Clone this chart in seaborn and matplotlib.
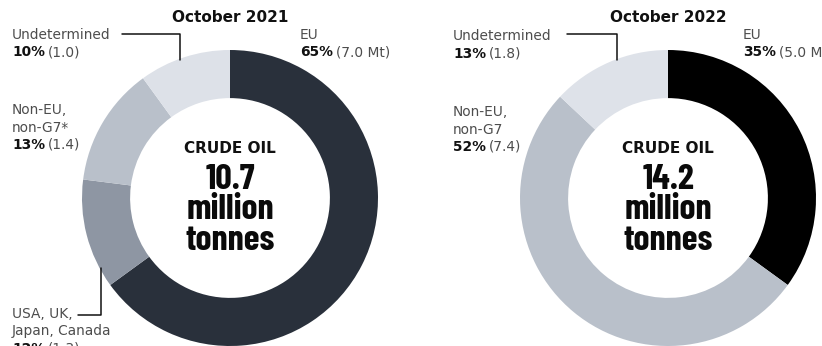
import matplotlib
matplotlib.use("Agg")
import matplotlib.pyplot as plt
from matplotlib.lines import Line2D
import seaborn as sns

# ---- data -------------------------------------------------------------
categories = ["EU", "USA, UK, Japan, Canada", "Non-EU, non-G7", "Undetermined"]
share_2021 = [65, 12, 13, 10]          # % of crude oil exports
volume_2021 = [7.0, 1.3, 1.4, 1.0]     # million tonnes
share_2022 = [35, 0, 52, 13]
volume_2022 = [5.0, 0.0, 7.4, 1.8]
periods = ["October 2021", "October 2022"]
totals = [10.7, 14.2]                  # million tonnes

colors_2021 = ["#29303b", "#8e96a3", "#b9c0ca", "#dde1e8"]
colors_2022 = ["#000000", "#8e96a3", "#b9c0ca", "#dee2e9"]

# ---- figure -----------------------------------------------------------
sns.set_theme(style="white")
plt.rcParams["font.family"] = ["DejaVu Sans"]

W, H = 822, 346
fig = plt.figure(figsize=(W / 100, H / 100), dpi=100)
fig.patch.set_facecolor("white")


def fx(x):
    return x / W


def fy(y):
    return 1 - y / H


def donut(cx, cy, r, shares, colors):
    ax = fig.add_axes([fx(cx - r), fy(cy + r), 2 * r / W, 2 * r / H])
    vals = [s for s in shares if s > 0]
    cols = [c for s, c in zip(shares, sns.color_palette(colors)) if s > 0]
    ax.pie(vals, colors=cols, startangle=90, counterclock=False, radius=1,
           wedgeprops=dict(width=0.325, linewidth=0))
    ax.set_xlim(-1, 1)
    ax.set_ylim(-1, 1)
    ax.set_aspect("equal")
    ax.axis("off")
    return ax


centers = [(230, 198), (668, 198)]
R = 148
donut(*centers[0], R, share_2021, colors_2021)
donut(*centers[1], R, share_2022, colors_2022)

renderer = fig.canvas.get_renderer()
LBL = 9.9
GRAY = "#4d4d4d"


def label(x, y, lines, share, vol, unit=""):
    step = 17.5
    for i, ln in enumerate(lines):
        fig.text(fx(x), fy(y + i * step), ln, fontsize=LBL, color=GRAY,
                 ha="left", va="center")
    yb = y + len(lines) * step
    t = fig.text(fx(x), fy(yb), f"{share}%", fontsize=LBL, color="#111111",
                 fontweight="bold", ha="left", va="center")
    bb = t.get_window_extent(renderer)
    fig.text(fx(bb.x1 + 3), fy(yb), f"({vol:.1f}{unit})", fontsize=LBL,
             color=GRAY, ha="left", va="center")


def leader(points):
    xs = [fx(p[0]) for p in points]
    ys = [fy(p[1]) for p in points]
    fig.add_artist(Line2D(xs, ys, transform=fig.transFigure, color="#111111",
                          lw=1.1))


# titles and centre totals
for (cx, cy), title, total in zip(centers, periods, totals):
    fig.text(fx(cx), fy(17), title, fontsize=11, fontweight="bold",
             color="#111111", ha="center", va="center")
    fig.text(fx(cx), fy(153), "CRUDE OIL", fontsize=11, fontweight="bold",
             color="#111111", ha="center", va="baseline")
    for txt, base in zip([f"{total:.1f}", "million", "tonnes"], [189, 219, 250]):
        fig.text(fx(cx), fy(base), txt, fontsize=26, fontweight=700,
                 family=["Barlow Condensed", "DejaVu Sans"],
                 color="#0a0a0a", ha="center", va="baseline")

# 2021 labels
label(12, 35, ["Undetermined"], share_2021[3], volume_2021[3])
leader([(122, 34), (180, 34), (180, 60)])
label(12, 110, ["Non-EU,", "non-G7*"], share_2021[2], volume_2021[2])
label(12, 314, ["USA, UK,", "Japan, Canada"], share_2021[1], volume_2021[1])
leader([(78, 315), (101, 315), (101, 268)])
label(300, 35, ["EU"], share_2021[0], volume_2021[0], " Mt")

# 2022 labels
label(453, 36, ["Undetermined"], share_2022[3], volume_2022[3])
leader([(567, 34), (617, 34), (617, 60)])
label(453, 112, ["Non-EU,", "non-G7"], share_2022[2], volume_2022[2])
label(743, 35, ["EU"], share_2022[0], volume_2022[0], " Mt")

fig.savefig("out.png", dpi=100, facecolor="white")
